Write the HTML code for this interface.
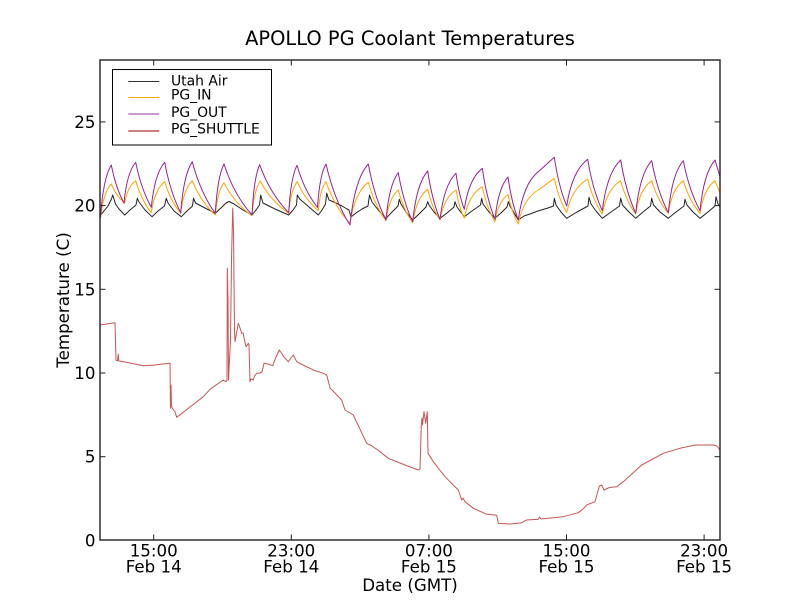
<!DOCTYPE html>
<html>
<head>
<meta charset="utf-8">
<style>
html,body{margin:0;padding:0;background:#fff;}
svg{display:block;}
text{font-family:"DejaVu Sans","Liberation Sans",sans-serif;fill:#000;}
</style>
</head>
<body>
<svg width="800" height="600" viewBox="0 0 800 600" xmlns="http://www.w3.org/2000/svg">
<rect x="0" y="0" width="800" height="600" fill="#fff"/>

<!-- Data series -->
<g fill="none" stroke-width="1" stroke-linejoin="round">
<!-- PG_SHUTTLE -->
<polyline stroke="#c65555" points="100,325 115,322.7 116,360 117.5,361 118.3,354 118.8,361 125,362 143.3,365.7 155,365 168.3,363.3 170,363.3 170.5,408.3 171,385 171.5,405 172,408 175,411.7 176.7,417.3 190,407 203.3,396.7 210,389.3 223.3,380 226,381.7 227,380 227.3,268.3 228,300 228.5,380 229.3,363.3 230.5,340 231.5,260 232.7,208.3 233.5,230 234.5,330 235,341.7 238.3,323.3 240,328 241.7,333.3 243,333 244.5,340 246,346.7 248.3,343.3 249,345 250,381.7 251,379 253.3,380 254.5,376 256.7,373.3 260,373 262,372 264,363.3 268,364 272.7,365.7 276,357 279.3,350 284,357 288.3,361.7 291,358 293.3,355 296.7,361.7 303,365 310,368.3 313.3,370 323.3,373.3 326.7,375 330,388 334,392 341.7,400 345,410 353.3,415 366.7,443.3 372,446 380,451.7 388.3,458.3 395,461 405,465 418.3,470 420,469 421.3,425 422,418 422.5,425 424,411.7 425.7,423.3 427.3,411.7 428,453.3 433.3,461.7 445,476.7 458.3,490 460,495 461.7,500 463,498 465,501.7 473.3,508.3 486.7,514.3 496.7,515.3 498.3,523.3 510,524 521.7,522.7 526.7,520 538.3,519.3 539.5,517 541,519 563.3,516.7 578.3,512.7 583,509 586.7,505 595,501.7 599.3,486 601.7,485 604,490 608,488 611.7,487.3 616.7,486.7 623.3,481.7 641.7,465 663.3,453.3 680,448.3 695,445 713.3,445 717,446 720,450"/>
<!-- Utah Air -->
<polyline stroke="#222" points="100.5,215 104,211 108,206 111.5,199 112.7,195 114,199 115.5,204 119,209 124.7,215 130,210 136,205 137.3,198.3 139,202 145,210 152,216.7 158,211 164.5,206 166.3,198.3 168,203 174,211 181.3,216.7 187,211 192.5,206 193.5,198.3 195.5,203 205,208 215.3,213.3 222,207 226,203 229,201.5 234,204 243,210 252,215 256,210 259.5,205 260.7,195 263,203 275,209 288.7,215 293,210 296.5,205 297.3,195 300,199.3 309,207 318.3,215 322,210 325.5,204 326.7,193.3 329,200 336,203 342,206 347,209 349,210 351,217 356,213 362,209 368,206 369.5,195 372,202 379,211 386,218.3 392,212 398,206 399.3,199.3 401,204 406,212 412.7,220 419,214 426,207 427.7,201.7 429,205 434,212 440,218.3 447,213 454,207 455,201.7 457,207 464.3,216.7 472,211 480.5,205 481.7,198.3 483,204 489,212 495,218.3 501,213 507,207 508.3,201.7 510,206 518.3,220 524,216 530,214 538,211 548,208 553.5,206 554.3,198.3 556,205 561,212 566.7,218.3 577,212 588,206 589,197.3 591,204 596,211 602.3,218.3 611,212 619.5,206 620.7,198.3 622.5,205 629,212 635.7,218.3 643,212 650.5,206 651.7,198.3 653.5,205 660,212 668.3,218.3 676,212 684,206 685,199.3 687,205 693,212 700,218.3 708,212 715,206 716,196.7 718,204 720,206.7"/>
<!-- PG_IN -->
<path stroke="#ffa500" d="M100.5,218.3 Q103.2,192.6 111.3,184 Q116,195.6 124.7,203.3 Q127.5,186.4 135.7,180.7 Q141.2,199.9 151.3,212.7 Q154.7,189.5 164.7,181.7 Q170.3,200.7 180.7,213.3 Q183.6,188.9 192.3,180.7 Q200.4,201.3 215.3,215 Q217.5,190.8 224,182.7 Q233.8,202.5 252,215.7 Q254.1,189.7 260.3,181 Q270.2,200.4 288.7,213.3 Q290.9,189.6 297.3,181.7 Q304.7,199.1 318.3,210.7 Q320.2,189 326,181.7 Q334.4,206.7 350,223.3 Q354.6,192.6 368.3,182.3 Q374.5,205.3 386,220.7 Q389.1,197.7 398.3,190 Q403.3,209.6 412.7,222.7 Q416.5,197.7 427.7,189.3 Q432,207.7 440,220 Q444,197.5 456,190 Q458.9,207 464.3,218.3 Q468.8,194.6 482.3,186.7 Q486.7,207.7 495,221.7 Q498.3,201.3 508,194.5 Q511.6,212.2 518.3,224 Q523.3,198.5 538.3,190 L554.3,178.3 Q558.6,198.9 566.7,212.7 Q572,187.7 587.7,179.3 Q592.8,200.1 602.3,214 Q606.9,189 620.7,180.7 Q626,200.7 635.7,214 Q639.7,189 651.7,180.7 Q657.5,200.3 668.3,213.3 Q672,188.9 683.3,180.7 Q689.1,200.3 700,213.3 Q703.8,188.9 715,180.7 L720,193.3"/>
<!-- PG_OUT -->
<path stroke="#952595" d="M100.5,217 Q103.2,178 111.3,165 Q115.7,187.8 124,203 Q126.9,172.5 135.7,162.3 Q141.2,189.3 151.3,207.3 Q154.7,173.6 164.7,162.3 Q170.3,192.5 180.7,212.7 Q183.6,174.5 192.3,161.7 Q200.4,192.7 215.3,213.3 Q217.5,176.3 224,164 Q233.8,194.6 252,215 Q253.9,177.3 259.7,164.7 Q269.9,193.5 288.7,212.7 Q290.8,177.2 297,165.3 Q304.2,190.6 317.5,207.5 Q319.6,174.9 326,164 Q334.4,200.6 350,225 Q354.6,179.3 368.3,164 Q374.5,197.6 386,220 Q389.1,184.5 398.3,172.7 Q403.3,202.1 412.7,221.7 Q416.5,183.7 427.7,171 Q432,200 440,219.3 Q444,184.8 456,173.3 Q458.9,194.9 464.3,209.3 Q468.8,178.6 482.3,168.3 Q486.7,198.9 495,219.3 Q498.3,187.6 508,177 Q511.6,202.8 518.3,220 Q523,183.8 538.3,171.7 L554.3,157.3 Q558.6,186.5 566.7,206 Q572,171 587.7,159.3 Q592.8,190.1 602.3,210.7 Q606.9,172.7 620.7,160 Q626,192 635.7,213.3 Q639.7,173.9 651.7,160.7 Q657.5,191.9 668.3,212.7 Q672,173.7 683.3,160.7 Q689.1,190.7 700,210.7 Q703.8,172.7 715,160 L720,176.7"/>
</g>

<!-- Axes frame -->
<rect x="100" y="60" width="620" height="480" fill="none" stroke="#222" stroke-width="1.4"/>

<!-- Ticks -->
<g stroke="#222" stroke-width="1">
<line x1="153.7" y1="540" x2="153.7" y2="534.5"/>
<line x1="291.3" y1="540" x2="291.3" y2="534.5"/>
<line x1="428.9" y1="540" x2="428.9" y2="534.5"/>
<line x1="566.5" y1="540" x2="566.5" y2="534.5"/>
<line x1="704.1" y1="540" x2="704.1" y2="534.5"/>
<line x1="153.7" y1="60" x2="153.7" y2="65.5"/>
<line x1="291.3" y1="60" x2="291.3" y2="65.5"/>
<line x1="428.9" y1="60" x2="428.9" y2="65.5"/>
<line x1="566.5" y1="60" x2="566.5" y2="65.5"/>
<line x1="704.1" y1="60" x2="704.1" y2="65.5"/>
<line x1="100" y1="456.7" x2="105.5" y2="456.7"/>
<line x1="100" y1="373" x2="105.5" y2="373"/>
<line x1="100" y1="289.3" x2="105.5" y2="289.3"/>
<line x1="100" y1="205.6" x2="105.5" y2="205.6"/>
<line x1="100" y1="121.9" x2="105.5" y2="121.9"/>
<line x1="720" y1="456.7" x2="714.5" y2="456.7"/>
<line x1="720" y1="373" x2="714.5" y2="373"/>
<line x1="720" y1="289.3" x2="714.5" y2="289.3"/>
<line x1="720" y1="205.6" x2="714.5" y2="205.6"/>
<line x1="720" y1="121.9" x2="714.5" y2="121.9"/>
</g>

<!-- Y tick labels -->
<g font-size="16.67" text-anchor="end">
<text x="95.5" y="546.4">0</text>
<text x="95.5" y="462.7">5</text>
<text x="95.5" y="379">10</text>
<text x="95.5" y="295.3">15</text>
<text x="95.5" y="211.6">20</text>
<text x="95.5" y="127.9">25</text>
</g>

<!-- X tick labels -->
<g font-size="16.67" text-anchor="middle">
<text x="153.7" y="556.5">15:00</text>
<text x="153.7" y="572.7">Feb 14</text>
<text x="291.3" y="556.5">23:00</text>
<text x="291.3" y="572.7">Feb 14</text>
<text x="428.9" y="556.5">07:00</text>
<text x="428.9" y="572.7">Feb 15</text>
<text x="566.5" y="556.5">15:00</text>
<text x="566.5" y="572.7">Feb 15</text>
<text x="704.1" y="556.5">23:00</text>
<text x="704.1" y="572.7">Feb 15</text>
</g>

<!-- Axis labels -->
<text x="410" y="591" font-size="16.67" text-anchor="middle">Date (GMT)</text>
<text x="69" y="300" font-size="16.67" text-anchor="middle" transform="rotate(-90 69 300)">Temperature (C)</text>

<!-- Title -->
<text x="410" y="45" font-size="19.44" text-anchor="middle">APOLLO PG Coolant Temperatures</text>

<!-- Legend -->
<rect x="112.5" y="69.5" width="159" height="75.5" fill="#fff" stroke="#000" stroke-width="1"/>
<g stroke-width="1">
<line x1="128.3" y1="81.5" x2="159.3" y2="81.5" stroke="#333"/>
<line x1="128.3" y1="97.5" x2="159.3" y2="97.5" stroke="#ffa500"/>
<line x1="128.3" y1="114" x2="159.3" y2="114" stroke="#a030a0"/>
<line x1="128.3" y1="131" x2="159.3" y2="131" stroke="#c65555" stroke-width="1.4"/>
</g>
<g font-size="13.9">
<text x="171" y="85.5">Utah Air</text>
<text x="171" y="99.5">PG_IN</text>
<text x="171" y="117">PG_OUT</text>
<text x="171" y="133.5">PG_SHUTTLE</text>
</g>
</svg>
</body>
</html>
